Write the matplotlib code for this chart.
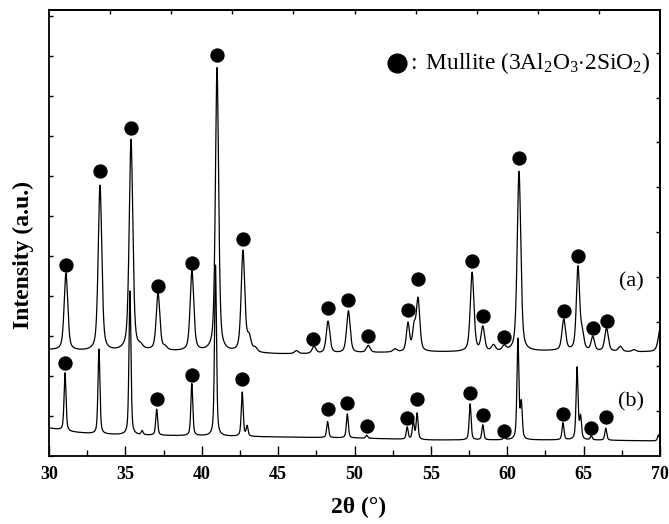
import numpy as np
import matplotlib
matplotlib.use('Agg')
import matplotlib.pyplot as plt
from matplotlib.ticker import MultipleLocator, FixedLocator, NullFormatter

plt.rcParams['font.family'] = ['Liberation Serif', 'DejaVu Serif']
plt.rcParams['mathtext.fontset'] = 'custom'
plt.rcParams['mathtext.rm'] = 'Liberation Serif'
plt.rcParams['mathtext.it'] = 'Liberation Serif:italic'
plt.rcParams['mathtext.bf'] = 'Liberation Serif:bold'

# ---------------- data (intensity in arbitrary units) ----------------
# sample (a): background anchors
bg_a_x = [30, 33.5, 36, 40, 45, 47, 50, 55, 60, 63, 68, 70]
bg_a_y = [106, 104, 105, 104, 102, 102, 103, 104, 104, 105, 104, 104]
# sample (a): reflections (2theta, height above background, FWHM)
pk_a_pos = [31.11, 33.34, 35.37, 36.0, 37.14, 37.6, 39.36, 41.0, 42.7, 43.1, 43.5,
            46.2, 47.35, 48.27, 49.6, 50.9, 52.65, 53.5, 53.9, 54.16, 57.7, 58.4,
            59.1, 59.8, 60.77, 63.7, 64.63, 64.9, 65.6, 66.5, 67.4, 68.3, 70.05]
pk_a_h = [77, 166, 211, 3, 57, 3, 80, 284, 101, 14, 4,
          3, 7, 32, 42, 7, 3, 28, 22, 52, 79, 24,
          6, 5, 180, 31, 83, 16, 14, 23, 5, 2, 26]
pk_a_w = [0.28, 0.28, 0.28, 0.3, 0.28, 0.3, 0.28, 0.25, 0.28, 0.3, 0.3,
          0.3, 0.3, 0.28, 0.28, 0.3, 0.3, 0.24, 0.24, 0.27, 0.28, 0.27,
          0.3, 0.3, 0.28, 0.28, 0.25, 0.26, 0.26, 0.28, 0.3, 0.3, 0.35]

# sample (b): background anchors
bg_b_x = [30, 31.5, 33, 35, 40, 45, 50, 55, 60, 65, 70]
bg_b_y = [28, 24, 22, 21, 20, 19, 18, 16, 16, 16, 15]
pk_b_pos = [31.05, 33.27, 35.3, 36.1, 37.05, 39.35, 40.9, 42.65, 42.97, 48.24,
            49.53, 50.8, 53.45, 53.85, 54.1, 57.57, 58.4, 59.8, 60.7, 60.92,
            63.65, 64.57, 64.8, 65.5, 66.45, 69.9]
pk_b_h = [58, 85, 144, 4, 26, 52, 171, 44, 10, 16,
          24, 3, 12, 18, 26, 36, 15, 3, 100, 35,
          17, 72, 22, 4, 12, 6]
pk_b_w = [0.15] * len(pk_b_pos)

# mullite markers (2theta, intensity)
mk_a_x = [31.11, 33.34, 35.37, 37.14, 39.36, 41.0, 42.7, 47.3, 48.27, 49.6, 50.9,
          53.5, 54.16, 57.7, 58.4, 59.8, 60.77, 63.7, 64.63, 65.6, 66.5]
mk_a_y = [191, 285, 328, 170, 193, 401, 217, 117, 148, 156, 120,
          146, 177, 195, 140, 119, 298, 145, 200, 128, 135]
mk_b_x = [31.05, 37.05, 39.35, 42.65, 48.24, 49.53, 50.85, 53.45, 54.1, 57.57,
          58.4, 59.8, 63.65, 65.5, 66.45]
mk_b_y = [93, 57, 81, 77, 47, 53, 30, 38, 57, 63,
          41, 25, 42, 28, 39]

x_ticks = [30, 35, 40, 45, 50, 55, 60, 65, 70]
sample_labels = ['(a)', '(b)']


def pattern(x, bgx, bgy, pos, hts, wids, eta=0.5):
    y = np.interp(x, bgx, bgy).astype(float)
    for p, h, w in zip(pos, hts, wids):
        d = (x - p) / (w / 2.0)
        lor = 1.0 / (1.0 + d ** 2)
        gau = np.exp(-np.log(2) * d ** 2)
        y += h * (eta * lor + (1 - eta) * gau)
    return y


tt = np.linspace(30, 70, 4001)
ya = pattern(tt, bg_a_x, bg_a_y, pk_a_pos, pk_a_h, pk_a_w)
yb = pattern(tt, bg_b_x, bg_b_y, pk_b_pos, pk_b_h, pk_b_w)

fig = plt.figure(figsize=(6.69, 5.24), dpi=100)
ax = fig.add_axes([49 / 669, 68 / 524, 611 / 669, 446 / 524])

ax.plot(tt, ya, color='black', lw=0.9)
ax.plot(tt, yb, color='black', lw=0.9)
ax.plot(mk_a_x, mk_a_y, 'o', color='black', ms=9.3, ls='none')
ax.plot(mk_b_x, mk_b_y, 'o', color='black', ms=9.3, ls='none')

ax.set_xlim(30, 70)
ax.set_ylim(0, 446)

ax.xaxis.set_major_locator(FixedLocator(x_ticks))
ax.xaxis.set_minor_locator(MultipleLocator(2.5))
ax.yaxis.set_major_locator(MultipleLocator(40))
ax.yaxis.set_major_formatter(NullFormatter())
ax.tick_params(axis='x', which='major', direction='in', length=7.5, width=1.0,
               labelsize=13, pad=7, top=False)
ax.tick_params(axis='x', which='minor', direction='in', length=4, width=1.0, top=False)
ax.tick_params(axis='y', which='major', direction='in', length=3, width=1.0, right=False)
for lab in ax.get_xticklabels():
    lab.set_fontweight('bold')

secx = ax.secondary_xaxis('top')
secx.set_xticks(np.arange(34, 67, 4))
secx.tick_params(direction='in', length=3, width=1.0, labeltop=False)
secx.xaxis.set_major_formatter(NullFormatter())
secy = ax.secondary_yaxis('right')
secy.set_yticks([44.8 * k for k in range(1, 10)])
secy.tick_params(direction='in', length=3, width=1.0, labelright=False)
secy.yaxis.set_major_formatter(NullFormatter())

for s in list(ax.spines.values()):
    s.set_linewidth(1.3)
secx.spines['top'].set_linewidth(1.3)
secy.spines['right'].set_linewidth(1.3)

# sample labels
ax.text(0.953, (456 - 282) / 446, sample_labels[0], transform=ax.transAxes,
        ha='center', va='center', fontsize=16)
ax.text(0.953, (456 - 402) / 446, sample_labels[1], transform=ax.transAxes,
        ha='center', va='center', fontsize=16)

# legend
ax.plot([(397 - 49) / 611], [(456 - 63) / 446], 'o', color='black', ms=13.5,
        transform=ax.transAxes, clip_on=False)
ax.text((407 - 49) / 611, (456 - 63) / 446,
        r'$\mathrm{:\ Mullite\ (3Al_{2}O_{3}{\cdot}2SiO_{2})}$',
        transform=ax.transAxes, ha='left', va='center', fontsize=16.8)

fig.text(359 / 669, 1 - 507 / 524, '2θ (°)', ha='center', va='center',
         fontsize=17, fontweight='bold')
fig.text(23 / 669, 1 - 255 / 524, 'Intensity (a.u.)', ha='center', va='center',
         rotation=90, fontsize=17, fontweight='bold')

fig.savefig('out.png', dpi=100)
